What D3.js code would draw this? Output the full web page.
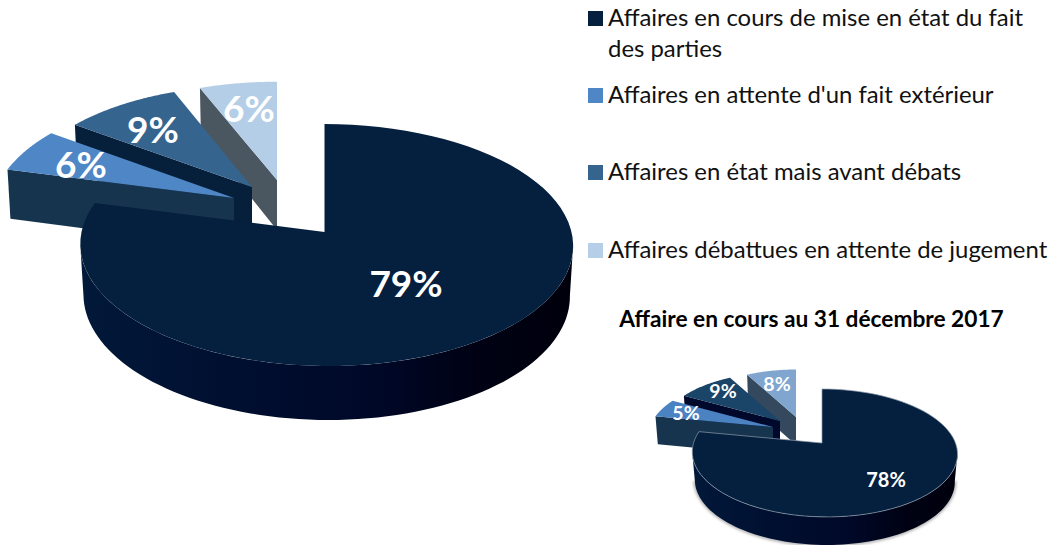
<!DOCTYPE html>
<html><head><meta charset="utf-8">
<script src="https://cdn.jsdelivr.net/npm/d3@7/dist/d3.min.js"></script>
<style>html,body{margin:0;padding:0;background:#fff}svg{display:block}text{font-family:Lato,"Open Sans",sans-serif}</style>
</head><body><svg width="1053" height="545"></svg>
<script>
const legendLabels = [["Affaires en cours de mise en état du fait","des parties"],["Affaires en attente d'un fait extérieur"],["Affaires en état mais avant débats"],["Affaires débattues en attente de jugement"]];
const values2018 = [79,6,9,6];
const values2017 = [78,5,9,8];
const chartTitle = "Affaire en cours au 31 décembre 2017";
const legendColors = ["#05203f","#4f86c6","#35648f","#b5cfe8"];

const topColors = {big:["#05203f","#4f86c6","#35648f","#b3cee6"],small:["#05203f","#4a82c2","#1a4468","#80a6cf"]};
const sideColors = {big:["#05203f","#17344f","#06203c","#4a5660"],small:["#05203f","#17344f","#00082c","#35495e"]};

const svg = d3.select("svg");
const defs = svg.append("defs");
const grad = defs.append("linearGradient").attr("id","side").attr("x1",0).attr("x2",1).attr("y1",0).attr("y2",0);
[[0,"#02193a"],[.3,"#000f30"],[.6,"#000828"],[.8,"#000214"],[1,"#00000c"]].forEach(s=>grad.append("stop").attr("offset",s[0]).attr("stop-color",s[1]));
const blur = defs.append("filter").attr("id","soft").attr("x","-5%").attr("y","-5%").attr("width","110%").attr("height","115%");
blur.append("feGaussianBlur").attr("stdDeviation",1.4);

const pie = d3.pie().sort(null).startAngle(0).endAngle(2*Math.PI);
const line = d3.line();

function drawPie(cfg){
  const g = svg.append("g");
  const arcs = pie(cfg.values);
  const x = d3.scaleLinear().domain([-1,1]).range([-cfg.R,cfg.R]);
  const y = d3.scaleLinear().domain([-1,1]).range([cfg.Ry,-cfg.Ry]);
  const project = (a,k,sh)=>{const X=Math.sin(a),Y=Math.cos(a),w=1+cfg.p*Y;return [x(X/w)*k[0]+sh*(1-Y),y(Y/w)*k[1]];};
  const arcPts=(a0,a1,k,sh)=>d3.range(0,81).map(i=>project(a0+(a1-a0)*i/80,k,sh));
  const low=(pt,ap)=>[ap[0]+pt[0]*cfg.sx, ap[1]+cfg.depth+pt[1]*cfg.sy];
  const top=(pt,ap)=>[ap[0]+pt[0], ap[1]+pt[1]];
  [3,2,1,0].forEach(i=>{
    const d=arcs[i], ap=cfg.apex[i], k=cfg.scale[i];
    if(i===0){
      const pts=arcPts(d.startAngle,d.endAngle,k,cfg.shear);
      const ext=Math.acos(-cfg.p);
      const front=arcPts(ext,2*Math.PI-ext,k,cfg.shear);
      const wall=[...front.map(p=>top(p,ap)),...front.slice().reverse().map(p=>low(p,ap))];
      if(cfg.shadow) g.append("path").attr("d",line(front.map(p=>low(p,ap)))).attr("fill","none").attr("stroke","#999").attr("stroke-width",2.5).attr("filter","url(#soft)");
      g.append("path").attr("d",line(wall)+"Z").attr("fill","url(#side)");
      g.append("path").attr("d",line([ap,...pts.map(p=>top(p,ap))])+"Z").attr("fill",topColors[cfg.key][0]).attr("stroke",cfg.edge||"none").attr("stroke-width",cfg.edge?.7:0);
    } else {
      const pts=arcPts(d.startAngle,d.endAngle,k,0);
      const first=pts[0];
      const wall=[top([0,0],ap),top(first,ap),low(first,ap),low([0,0],ap)];
      g.append("path").attr("d",line(wall)+"Z").attr("fill",sideColors[cfg.key][i]);
      g.append("path").attr("d",line([ap,...pts.map(p=>top(p,ap))])+"Z").attr("fill",topColors[cfg.key][i]);
    }
    g.append("text").attr("x",cfg.label[i][0]).attr("y",cfg.label[i][1]).attr("text-anchor","middle")
      .attr("fill","#fff").attr("font-weight",700).attr("font-size",cfg.fs[i]).text(d.data+"%");
  });
}

drawPie({key:"big",values:values2018,R:245,Ry:119.6,p:.1074,sx:.987,sy:1.03,depth:50,shear:2,
  apex:[[324.5,232],[234,198],[252,187],[277,180]],scale:[[1,1],[.98,.98],[.95,.94],[.94,.91]],
  label:[[406,297],[81,178],[153,143],[249,122]],fs:[37,37,37,37]});

drawPie({key:"small",values:values2017,R:131,Ry:62.4,p:.156,sx:.98,sy:1.0,depth:28,shear:2.5,shadow:true,edge:"#8c9bab",
  apex:[[822,443],[773,427],[780,421],[796,417]],scale:[[1,1],[.94,.94],[.9,.9],[.88,.88]],
  label:[[886,487],[686,420],[723,398],[777,391]],fs:[20,19.5,19.5,19.5]});

const lg=svg.append("g");
const legendY=[11,88,165,243], base=[26,103,180,258];
legendLabels.forEach((lines,i)=>{
  lg.append("rect").attr("x",588).attr("y",legendY[i]).attr("width",15).attr("height",15).attr("fill",legendColors[i]);
  lines.forEach((t,j)=>lg.append("text").attr("x",608).attr("y",base[i]+j*31).attr("font-size",23.9).attr("fill","#111").text(t));
});
svg.append("text").attr("x",811.5).attr("y",327).attr("text-anchor","middle").attr("font-weight",700).attr("font-size",22.7).attr("fill","#000").text(chartTitle);
</script></body></html>
